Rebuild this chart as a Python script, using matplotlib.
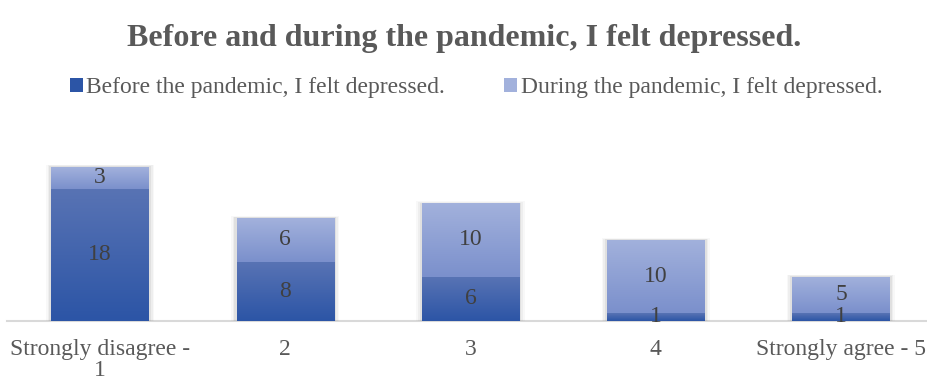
import matplotlib.pyplot as plt
import numpy as np
from matplotlib.patches import Rectangle
from matplotlib.colors import LinearSegmentedColormap

plt.rcParams['font.family'] = ['Liberation Serif', 'DejaVu Serif']

categories = ['Strongly disagree -\n1', '2', '3', '4', 'Strongly agree - 5']
before = [18, 8, 6, 1, 1]
during = [3, 6, 10, 10, 5]
series_names = ['Before the pandemic, I felt depressed.',
                'During the pandemic, I felt depressed.']

# gradient colours (top, bottom) per series
before_grad = ('#5873b4', '#2c55a6')
during_grad = ('#a2b1dc', '#7b90cc')

fig = plt.figure(figsize=(9.28, 3.84), dpi=100)
ax = fig.add_axes([0.008, 0.165, 0.998, 0.485])

x = np.arange(len(categories))
width = 0.525


def grad_bar(x0, y0, h, colors, zorder=3):
    cmap = LinearSegmentedColormap.from_list('g', [colors[1], colors[0]])
    grad = np.linspace(0, 1, 64).reshape(-1, 1)
    im = ax.imshow(grad, cmap=cmap, aspect='auto', origin='lower',
                   extent=[x0 - width / 2, x0 + width / 2, y0, y0 + h], zorder=zorder)
    rect = Rectangle((x0 - width / 2, y0), width, h, facecolor='none',
                     edgecolor='none', transform=ax.transData)
    ax.add_patch(rect)
    im.set_clip_path(rect)


for i in x:
    total = before[i] + during[i]
    # soft shadow behind each bar
    for k, a in enumerate([0.05, 0.08, 0.12]):
        pad = 0.03 - k * 0.009
        ax.add_patch(Rectangle((i - width / 2 - pad, 0), width + 2 * pad, total + 0.25 - k * 0.08,
                               facecolor='#808080', alpha=a, edgecolor='none', zorder=2))
    grad_bar(i, 0, before[i], before_grad)
    grad_bar(i, before[i], during[i], during_grad)
    ax.text(i, before[i] / 2, str(before[i]), ha='center', va='center',
            fontsize=17, color='#404040', zorder=5)
    ax.text(i, before[i] + during[i] / 2, str(during[i]), ha='center', va='center',
            fontsize=17, color='#404040', zorder=5)

ax.set_xlim(-0.5, len(categories) - 0.5)
ax.set_ylim(0, 25.4)
ax.set_xticks(x)
ax.set_xticklabels(categories, fontsize=17, color='#595959', linespacing=1.0)
ax.tick_params(axis='x', length=0, pad=13)
ax.set_yticks([])
for s in ['top', 'right', 'left']:
    ax.spines[s].set_visible(False)
ax.spines['bottom'].set_color('#d9d9d9')
ax.spines['bottom'].set_linewidth(1.5)
ax.spines['bottom'].set_zorder(1)

fig.text(0.5, 0.9, 'Before and during the pandemic, I felt depressed.',
         ha='center', va='center', fontsize=23, fontweight='bold', color='#595959')

handles = [Rectangle((0, 0), 1, 1, facecolor=before_grad[1]),
           Rectangle((0, 0), 1, 1, facecolor=during_grad[0])]
fig.legend(handles, series_names, loc='center', bbox_to_anchor=(0.513, 0.772), ncol=2,
           frameon=False, fontsize=17, labelcolor='#595959', handlelength=0.55,
           handleheight=0.55, handletextpad=0.15, columnspacing=2.5)

fig.savefig('out.png', dpi=100)
